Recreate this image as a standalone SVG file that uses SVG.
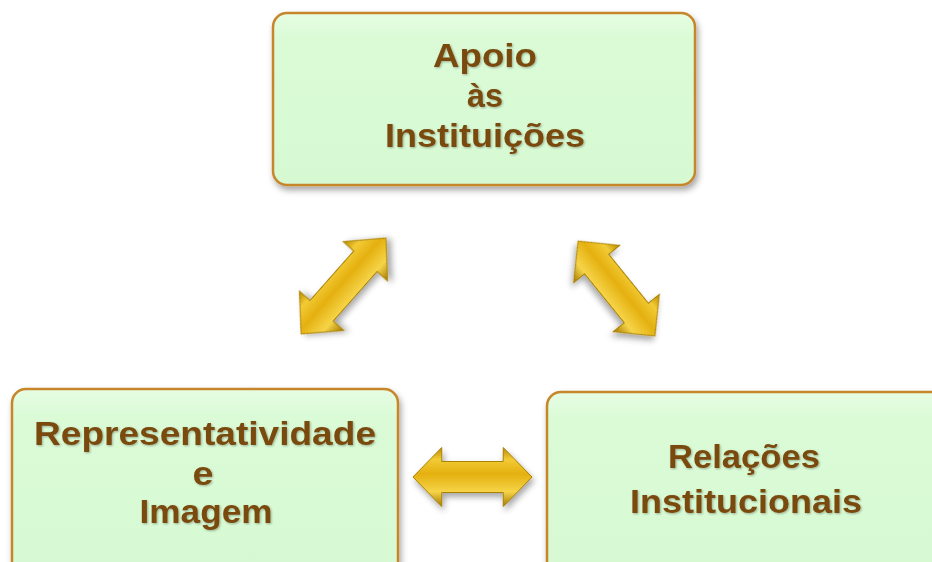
<svg xmlns="http://www.w3.org/2000/svg" width="932" height="562" viewBox="0 0 932 562">
  <defs>
    <linearGradient id="boxFill" x1="0" y1="0" x2="0" y2="1">
      <stop offset="0" stop-color="#E6FDE3"/>
      <stop offset="0.15" stop-color="#DAFBD6"/>
      <stop offset="1" stop-color="#D6F9D2"/>
    </linearGradient>
    <linearGradient id="gold" x1="0" y1="0" x2="0" y2="1">
      <stop offset="0" stop-color="#B88A00"/>
      <stop offset="0.2" stop-color="#F2CB35"/>
      <stop offset="0.45" stop-color="#E4B010"/>
      <stop offset="0.75" stop-color="#F6D448"/>
      <stop offset="1" stop-color="#A57A00"/>
    </linearGradient>
    <filter id="shadow" x="-10%" y="-10%" width="120%" height="130%">
      <feDropShadow dx="2" dy="4" stdDeviation="3" flood-color="#000" flood-opacity="0.35"/>
    </filter>
    <filter id="tshadow" x="-5%" y="-10%" width="110%" height="130%">
      <feDropShadow dx="1" dy="1" stdDeviation="0.8" flood-color="#000" flood-opacity="0.3"/>
    </filter>
    <path id="dblArrow" d="M-60,0 L-31,-29.5 L-31,-15.5 L31,-15.5 L31,-29.5 L60,0 L31,29.5 L31,15.5 L-31,15.5 L-31,29.5 Z"/>
    <style>
      .box { fill: url(#boxFill); stroke: #C8862C; stroke-width: 2.5; filter: url(#shadow); }
      .lbl { font-family: "Liberation Sans", Arial, sans-serif; font-weight: 700; font-size: 34px; fill: #7A4A0C; text-anchor: middle; filter: url(#tshadow); }
      .arrow { fill: url(#gold); stroke: #A98000; stroke-width: 1; filter: url(#shadow); }
    </style>
  </defs>

  <g id="connectors">
    <use href="#dblArrow" class="arrow" transform="translate(343.5,286) rotate(-48.5) scale(1.067,1)"/>
    <use href="#dblArrow" class="arrow" transform="translate(616.5,288.5) rotate(51) scale(1.017,1)"/>
    <use href="#dblArrow" class="arrow" transform="translate(472.5,477) scale(0.992,1)"/>
  </g>

  <g id="node-apoio">
    <rect class="box" x="273" y="13" width="422" height="172" rx="14"/>
    <text class="lbl" x="485" y="67" textLength="104" lengthAdjust="spacingAndGlyphs">Apoio</text>
    <text class="lbl" x="485" y="107" textLength="36" lengthAdjust="spacingAndGlyphs">às</text>
    <text class="lbl" x="485" y="147" textLength="200" lengthAdjust="spacingAndGlyphs">Instituições</text>
  </g>

  <g id="node-representatividade">
    <rect class="box" x="12" y="389" width="386" height="190" rx="14"/>
    <text class="lbl" x="205" y="445" textLength="342" lengthAdjust="spacingAndGlyphs">Representatividade</text>
    <text class="lbl" x="203" y="485" textLength="21" lengthAdjust="spacingAndGlyphs">e</text>
    <text class="lbl" x="206" y="523" textLength="133" lengthAdjust="spacingAndGlyphs">Imagem</text>
  </g>

  <g id="node-relacoes">
    <rect class="box" x="547" y="392" width="400" height="190" rx="14"/>
    <text class="lbl" x="744" y="468" textLength="152" lengthAdjust="spacingAndGlyphs">Relações</text>
    <text class="lbl" x="746" y="513" textLength="232" lengthAdjust="spacingAndGlyphs">Institucionais</text>
  </g>
</svg>
